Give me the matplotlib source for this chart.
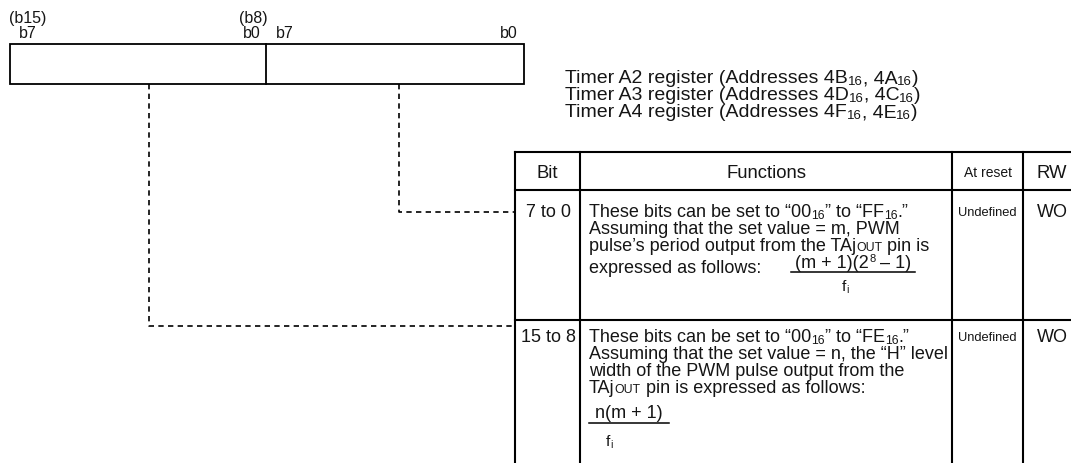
import re
import matplotlib
matplotlib.use('Agg')
import matplotlib.pyplot as plt
from matplotlib.patches import Rectangle
from matplotlib.font_manager import FontProperties

FONT = 'Liberation Sans'

# ---------------- content ----------------
bit_top_labels = ['(b15)', '(b8)']
bit_labels = ['b7', 'b0', 'b7', 'b0']
register_names = ['Timer A2 register (Addresses 4B_{16}, 4A_{16})',
                  'Timer A3 register (Addresses 4D_{16}, 4C_{16})',
                  'Timer A4 register (Addresses 4F_{16}, 4E_{16})']
header_labels = ['Bit', 'Functions', 'At reset', 'RW']
bit_ranges = ['7 to 0', '15 to 8']
function_lines = [
    ['These bits can be set to \u201c00_{16}\u201d to \u201cFF_{16}.\u201d',
     'Assuming that the set value = m, PWM',
     'pulse\u2019s period output from the TAj~{OUT} pin is',
     'expressed as follows:'],
    ['These bits can be set to \u201c00_{16}\u201d to \u201cFE_{16}.\u201d',
     'Assuming that the set value = n, the \u201cH\u201d level',
     'width of the PWM pulse output from the',
     'TAj~{OUT} pin is expressed as follows:']]
fraction_num = ['(m + 1)(2^{8} \u2013 1)', 'n(m + 1)']
fraction_den = ['f_{i}', 'f_{i}']
reset_values = ['Undefined', 'Undefined']
rw_values = ['WO', 'WO']

# ---------------- figure ----------------
fig = plt.figure(figsize=(10.71, 4.64), dpi=100)
ax = fig.add_axes([0, 0, 1, 1])
ax.set_xlim(0, 1071)
ax.set_ylim(464, 0)
ax.axis('off')
fig.canvas.draw()
R = fig.canvas.get_renderer()
TXT = '#151515'


def tw(s, size):
    fp = FontProperties(family=FONT, size=size)
    w1 = R.get_text_width_height_descent('|' + s + '|', fp, ismath=False)[0]
    w0 = R.get_text_width_height_descent('||', fp, ismath=False)[0]
    return w1 - w0


TOK = re.compile(r'(_\{[^}]*\}|\^\{[^}]*\}|~\{[^}]*\})')


def parse(s):
    out = []
    for p in TOK.split(s):
        if not p:
            continue
        if p.startswith('_{'):
            out.append((p[2:-1], 'sub'))
        elif p.startswith('^{'):
            out.append((p[2:-1], 'sup'))
        elif p.startswith('~{'):
            out.append((p[2:-1], 'sc'))
        else:
            out.append((p, 'n'))
    return out


def specs_of(s, size):
    specs = []
    px = size * 100 / 72
    for txt, kind in parse(s):
        if kind == 'n':
            sz, dy = size, 0
        elif kind == 'sub':
            sz, dy = size * 0.68, px * 0.10
        elif kind == 'sup':
            sz, dy = size * 0.62, -px * 0.32
        else:
            sz, dy = size * 0.68, 0
        specs.append((txt, sz, dy, tw(txt, sz)))
    return specs


def rich_width(s, size):
    return sum(sp[3] for sp in specs_of(s, size))


def rich(x, y, s, size, ha='left'):
    specs = specs_of(s, size)
    total = sum(sp[3] for sp in specs)
    if ha == 'center':
        x -= total / 2
    elif ha == 'right':
        x -= total
    for txt, sz, dy, w in specs:
        ax.text(x, y + dy, txt, fontsize=sz, family=FONT, va='baseline',
                ha='left', color=TXT)
        x += w
    return total


def line(xs, ys, lw=1.4, ls='-'):
    if ls == '--':
        ax.plot(xs, ys, color='black', lw=lw, linestyle=(0, (3.2, 2.6)),
                solid_capstyle='butt', dash_capstyle='butt')
    else:
        ax.plot(xs, ys, color='black', lw=lw, solid_capstyle='projecting')


# ---------------- register box ----------------
BX0, BX1, BXM, BY0, BY1 = 9.5, 524, 266, 44.5, 84.5
ax.add_patch(Rectangle((BX0, BY0), BX1 - BX0, BY1 - BY0, fill=False,
                       ec='black', lw=1.3))
line([BXM, BXM], [BY0, BY1], lw=1.3)

LBL = 11.5
rich(9.5, 23, bit_top_labels[0], LBL)
rich(238.5, 23, bit_top_labels[1], LBL)
rich(19, 38, bit_labels[0], LBL)
rich(243, 38, bit_labels[1], LBL)
rich(275.5, 38, bit_labels[2], LBL)
rich(500, 38, bit_labels[3], LBL)

REG = 14.0
for i, s in enumerate(register_names):
    rich(565, 83 + i * 17, s, REG)

# ---------------- dashed connectors ----------------
TX0 = 515
line([149, 149, TX0], [BY1, 327, 327], lw=1.2, ls='--')
line([399, 399, TX0], [BY1, 213, 213], lw=1.2, ls='--')

# ---------------- table ----------------
COLS = [515, 580, 952, 1023]
ROWS = [153, 191, 321]
for cx in COLS:
    line([cx, cx], [ROWS[0], 470], lw=1.5)
for ry in ROWS:
    line([COLS[0], 1080], [ry, ry], lw=1.5)

MAIN = 13.0
HEAD = 13.3
SMALL = 9.3
HB = 178.5
rich((COLS[0] + COLS[1]) / 2, HB, header_labels[0], HEAD, ha='center')
rich((COLS[1] + COLS[2]) / 2, HB, header_labels[1], HEAD, ha='center')
rich((COLS[2] + COLS[3]) / 2, HB - 1, header_labels[2], SMALL + 0.7, ha='center')
rich(1037, HB, header_labels[3], HEAD)

row_base = [217, 342]
LS = 17
TXL = 589
for r in range(2):
    y0 = row_base[r]
    rich((COLS[0] + COLS[1]) / 2 + 1, y0, bit_ranges[r], MAIN, ha='center')
    rich((COLS[2] + COLS[3]) / 2, y0 - 1, reset_values[r], SMALL, ha='center')
    rich(1037, y0, rw_values[r], MAIN)
    for k, s in enumerate(function_lines[r]):
        yy = y0 + k * LS + (5 if (r == 0 and k == 3) else 0)
        rich(TXL, yy, s, MAIN)

# fraction in row 1 (after "expressed as follows:")
w_expr = tw(function_lines[0][3], MAIN)
fx0 = TXL + w_expr + 30
num_w = rich_width(fraction_num[0], MAIN)
fx1 = fx0 + num_w + 8
fcx = (fx0 + fx1) / 2
rich(fcx, 268, fraction_num[0], MAIN, ha='center')
line([fx0, fx1], [273, 273], lw=1.1)
rich(fcx - 8, 291, fraction_den[0], MAIN * 0.85, ha='center')

# fraction in row 2
gx0 = TXL
num_w2 = rich_width(fraction_num[1], MAIN)
gx1 = gx0 + num_w2 + 12
rich((gx0 + gx1) / 2, 418, fraction_num[1], MAIN, ha='center')
line([gx0, gx1], [424, 424], lw=1.1)
rich(606, 446, fraction_den[1], MAIN * 0.85)

fig.savefig('out.png', dpi=100)
